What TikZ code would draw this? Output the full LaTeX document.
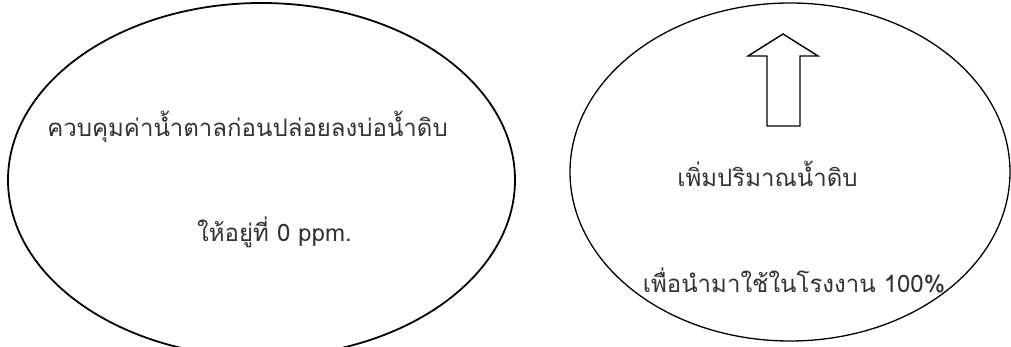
\documentclass[tikz,border=0pt]{standalone}
\usepackage{fontspec}
\newfontfamily\thaifont[Script=Thai]{Loma}
\usetikzlibrary{shapes.geometric}
\begin{document}
\begin{tikzpicture}[x=1pt,y=-1pt,
  thai/.style={font=\thaifont\fontsize{24}{28}\selectfont,inner sep=0pt,anchor=base,text=black!80},
  bubble/.style={draw,ellipse,inner sep=0pt}]
\useasboundingbox (0,0) rectangle (1011,347);
\clip (0,0) rectangle (1011,347);
% left bubble
\node[bubble,line width=1.8pt,minimum width=507pt,minimum height=354pt] (control) at (261.5,180) {};
\node[thai] (controlA) at (247.5,137) {ควบคุมค่าน้ำตาลก่อนปล่อยลงบ่อน้ำดิบ};
\node[thai] (controlB) at (274.5,242) {ให้อยู่ที่ 0 ppm.};
% right bubble
\node[bubble,line width=1.3pt,minimum width=440pt,minimum height=338pt] (raise) at (790,172) {};
\draw[line width=1.4pt,line join=miter] (767,126) -- (767,56) -- (748,56) -- (783,34) -- (818,56) -- (800,56) -- (800,126) -- cycle;
\node[thai] (raiseA) at (767.5,187) {เพิ่มปริมาณน้ำดิบ};
\node[thai] (raiseB) at (794,292) {เพื่อนำมาใช้ในโรงงาน 100\%};
\end{tikzpicture}
\end{document}
